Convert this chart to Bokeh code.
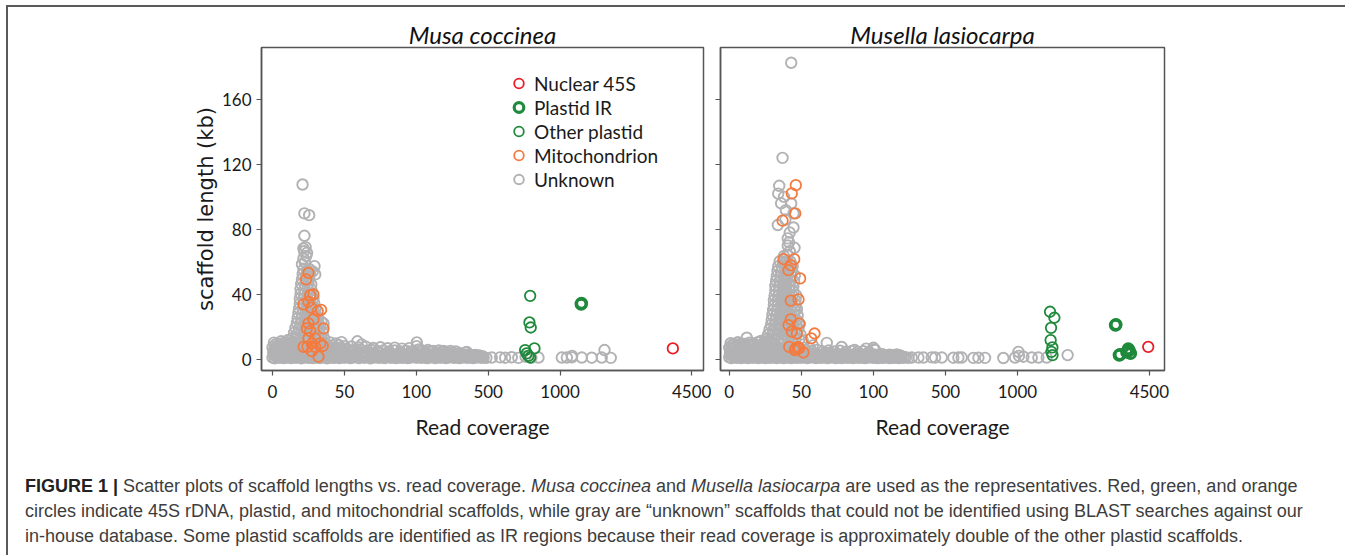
from bokeh.plotting import figure
from bokeh.models import (ColumnDataSource, CustomJSTransform, FixedTicker, CustomJSTickFormatter,
                          Range1d, Legend, LegendItem, Div, Title)
from bokeh.layouts import row, column
from bokeh.transform import transform
from bokeh.embed import file_html
from bokeh.resources import INLINE

# ---------------- axis definition (broken coverage axis) ----------------
COV_BREAKS = [0, 50, 100, 500, 1000, 4500]
AXIS_POS = [0, 1, 2, 3, 4, 5.83]
X_TICK_LABELS = ["0", "50", "100", "500", "1000", "4500"]
Y_TICKS = [0, 40, 80, 120, 160]

# ---------------- Musa coccinea (coverage, kb) ----------------
MC_NUCLEAR = [(4000, 6.6)]
MC_PLASTID_IR = [(1560, 33.9), (1570, 34.4)]
MC_OTHER_PLASTID = [(792, 39.0), (787, 22.6), (796, 19.5), (757, 5.6), (768, 3.5), (822, 6.6), (792, 1.0), (780, 2.0)]
MC_MITO = [(25.0, 53.2), (23.4, 49.1), (26.2, 39.4), (28.5, 39.9), (21.6, 33.7), (25.0, 35.4), (26.9, 31.7),
           (31.5, 29.6), (33.8, 30.4), (28.5, 24.6), (25.0, 22.0), (23.9, 18.9), (35.5, 18.9), (26.2, 17.3),
           (25.0, 12.8), (29.7, 12.8), (27.3, 9.7), (33.2, 9.7), (24.3, 7.6), (29.7, 7.6), (35.0, 8.2),
           (27.3, 4.9), (32.0, 1.5), (21.6, 7.6)]
MC_UNK_BASE = [
    (0, 1.0), (1.5, 0.5), (3, 1.2), (5, 0.8), (6.5, 1.5), (8, 0.6), (10, 1.0), (11.5, 1.3), (13, 0.7), (15, 1.1),
    (16.5, 0.9), (18, 1.4), (20, 0.5), (21.5, 1.0), (23, 1.2), (25, 0.8), (26.5, 1.3), (28, 0.6), (30, 1.0),
    (31.5, 1.1), (33, 0.7), (35, 1.4), (36.5, 0.9), (38, 0.5), (40, 1.2), (41.5, 1.0), (43, 0.8), (45, 1.3),
    (46.5, 0.6), (48, 1.1), (50, 0.9),
    (52, 1.2), (54, 0.7), (56, 1.0), (58, 1.4), (60, 0.6), (62, 1.1), (64, 0.9), (66, 1.3), (68, 0.5), (70, 1.0),
    (72, 1.2), (74, 0.8), (76, 1.1), (78, 0.6), (80, 1.3), (82, 0.9), (84, 1.0), (86, 0.7), (88, 1.2), (90, 0.8),
    (92, 1.1), (94, 0.6), (96, 1.0), (98, 1.3), (100, 0.9),
    (115, 1.1), (130, 0.8), (145, 1.2), (160, 0.7), (175, 1.0), (190, 1.3), (205, 0.6), (220, 1.1), (235, 0.9),
    (250, 1.2), (265, 0.7), (280, 1.0), (295, 1.3), (310, 0.8), (325, 1.1), (340, 0.6), (355, 1.0), (370, 1.2),
    (385, 0.8), (400, 1.1), (415, 0.7), (430, 1.0), (445, 1.2), (460, 0.9), (475, 1.0), (490, 0.8),
    (1, 2.6), (3, 2.2), (5, 2.9), (7, 2.4), (9, 2.7), (11, 2.1), (13, 2.8), (15, 2.3), (17, 2.6), (19, 2.0),
    (21, 2.9), (23, 2.4), (25, 2.7), (27, 2.2), (29, 2.5), (31, 2.8), (33, 2.1), (35, 2.6), (37, 2.3), (39, 2.9),
    (41, 2.4), (43, 2.0), (45, 2.7), (47, 2.3), (49, 2.5),
    (51.5, 2.2), (54, 1.9), (56.5, 2.4), (59, 2.0), (61.5, 2.5), (64, 1.8), (66.5, 2.3), (69, 2.1), (71.5, 2.6),
    (74, 1.9), (76.5, 2.2), (79, 2.0), (81.5, 2.4), (84, 1.8), (86.5, 2.3), (89, 2.1), (91.5, 2.5), (94, 1.9),
    (96.5, 2.2), (99, 2.0),
    (105, 1.9), (122, 2.2), (138, 1.7), (155, 2.1), (168, 1.8), (182, 2.3), (198, 1.9), (214, 2.0), (228, 1.7),
    (243, 2.2), (258, 1.8), (273, 2.1), (288, 1.7), (303, 2.0), (318, 2.2), (333, 1.8), (348, 2.0), (363, 1.7),
    (378, 2.1), (393, 1.9), (408, 2.0), (423, 1.7), (438, 1.9), (453, 1.6), (468, 1.8),
    (0.5, 4.2), (2.5, 3.6), (4.5, 4.5), (6, 3.8), (8, 4.8), (9.5, 3.5), (11.5, 4.2), (13, 4.9), (15, 3.7),
    (17, 4.4), (19, 5.0), (21, 3.8), (23, 4.6), (25, 4.1), (27, 5.2), (29, 3.9), (31, 4.5), (33, 3.6), (35, 4.8),
    (37, 4.0), (39, 3.5), (41, 4.4), (43, 3.8), (45, 4.2), (47, 3.6), (49, 4.0),
    (51, 3.2), (54, 3.9), (57, 3.1), (60, 3.6), (63, 2.9), (66, 3.4), (69, 3.8), (72, 2.8), (75, 3.3), (78, 3.0),
    (81, 3.5), (84, 2.7), (87, 3.2), (90, 3.6), (93, 2.9), (96, 3.3), (99, 3.0),
    (110, 3.0), (130, 2.6), (150, 3.2), (170, 2.5), (190, 3.0), (210, 2.7), (230, 3.1), (250, 2.4), (270, 2.9),
    (290, 2.6), (310, 3.0), (330, 2.3), (350, 2.8), (370, 2.5), (390, 2.9), (410, 2.4), (430, 2.6), (450, 2.2),
    (1, 5.6), (3, 6.1), (5, 5.3), (7, 5.9), (9, 6.3), (11, 5.5), (13, 6.0), (15, 5.7), (17, 6.2), (19, 5.4),
    (21, 5.9), (23, 6.3), (25, 5.6), (27, 6.0), (29, 5.5), (31, 6.2), (33, 5.3), (35, 5.8), (37, 5.4), (39, 5.9),
    (41, 5.2), (43, 5.7), (45, 5.3), (47, 5.8), (49, 5.1),
    (0, 7.2), (2, 6.5), (4, 7.8), (6, 8.5), (8, 7.0), (10, 8.9), (12, 7.4), (14, 9.5), (16, 8.0), (18, 6.8),
    (20, 7.6), (22, 8.4), (24, 6.9), (26, 7.3), (28, 8.1), (30, 6.6), (32, 7.5), (34, 6.8), (36, 7.9), (38, 6.4),
    (40, 7.1), (42, 6.6), (44, 7.4), (46, 6.3), (48, 6.9), (50, 6.1),
    (53, 5.8), (57, 5.2), (61, 6.0), (65, 5.0), (69, 5.6), (73, 4.9), (77, 5.4), (81, 4.8), (85, 5.3), (89, 4.7),
    (93, 5.2), (97, 4.6),
    (55, 7.8), (60, 7.2), (65, 7.6), (70, 6.9), (75, 7.3), (80, 6.7), (85, 7.1), (90, 6.5), (95, 6.8),
    (120, 4.6), (150, 4.2), (180, 4.8), (210, 4.0), (240, 4.4), (270, 3.9), (300, 4.2), (340, 3.8), (380, 4.0),
    (110, 5.8), (135, 5.2), (165, 5.6), (195, 5.0), (225, 5.3), (260, 4.8), (290, 5.1), (320, 4.7),
    (2, 9.0), (4.5, 8.4), (7, 9.3), (9.5, 8.1), (12, 9.6), (14.5, 8.8), (17, 9.9), (34, 8.6), (38, 8.9),
    (42, 8.3), (46, 8.7), (50, 8.0),
    (1, 10.2), (3.5, 9.6), (6, 11.0), (8.5, 10.4), (11, 11.8), (13.5, 10.6), (16, 12.3), (36, 9.8), (40, 10.3),
    (44, 9.6), (48, 10.5),
    (59, 11.0), (62, 9.0), (103, 10.3), (102, 8.0), (120, 6.0), (250, 5.0), (380, 4.5)]
MC_UNK_FAR = [(525, 1.0), (583, 1.1), (618, 0.9), (664, 1.2), (710, 0.8), (760, 1.5), (800, 0.8), (850, 1.0),
              (1046, 1.0), (1180, 1.0), (1312, 1.1), (1320, 2.0), (1578, 1.0), (1843, 0.9), (2109, 1.0),
              (2349, 0.8), (2182, 5.6)]
MC_UNK_SPIKE = [
    (14, 13.0), (16.5, 13.4), (19, 12.8), (21.5, 13.2), (24, 13.6), (26.5, 12.9), (29, 13.3), (31.5, 13.0),
    (34, 13.5), (36, 12.7),
    (15, 16.2), (17.5, 15.8), (20, 16.5), (22.5, 16.0), (25, 16.4), (27.5, 15.7), (30, 16.3), (32.5, 15.9),
    (35, 16.6),
    (16, 19.2), (18.5, 18.8), (21, 19.5), (23.5, 19.0), (26, 19.4), (28.5, 18.7), (31, 19.3), (33, 19.0),
    (17, 22.3), (19.5, 21.8), (22, 22.5), (24.5, 22.0), (27, 22.4), (29.5, 21.7), (32, 22.2), (34, 23.0),
    (17.5, 25.2), (20, 24.8), (22.5, 25.5), (25, 25.0), (27.5, 25.4), (30, 24.7), (31.5, 25.3),
    (18, 28.3), (20.5, 27.8), (23, 28.5), (25.5, 28.0), (28, 28.4), (30, 27.7),
    (18.5, 31.2), (21, 30.8), (23.5, 31.5), (26, 31.0), (28.5, 31.4), (30, 30.9),
    (19, 34.3), (21.5, 33.8), (24, 34.5), (26.5, 34.0), (29, 34.4),
    (19, 37.2), (21.5, 36.8), (24, 37.5), (26.5, 37.0), (28.5, 37.4),
    (19.5, 40.3), (22, 39.8), (24.5, 40.5), (27, 40.0),
    (19.5, 43.2), (22, 42.8), (24.5, 43.5), (27, 43.0),
    (20, 46.3), (22.5, 45.8), (25, 46.5), (27, 46.0),
    (20.5, 49.2), (23, 48.8), (25.5, 49.5),
    (21, 52.3), (23.5, 51.8), (26, 52.5), (29.7, 52.2),
    (21.5, 55.2), (24, 54.8), (25.5, 55.6),
    (20.5, 58.5), (22.5, 59.6), (21.5, 62.0), (23.5, 63.5), (22, 66.5), (24, 65.5), (21.5, 68.2), (23, 69.0),
    (29.2, 57.3), (28, 54.0), (35.5, 22.0),
    (20.9, 107.6), (22.2, 89.8), (25.5, 88.7), (22.2, 76.0)]

# ---------------- Musella lasiocarpa (coverage, kb) ----------------
ML_NUCLEAR = [(4470, 7.6)]
ML_PLASTID_IR = [(3600, 21.0), (3615, 21.3), (3700, 2.5), (3720, 2.8), (3900, 4.3), (3940, 6.3), (4000, 3.5),
                 (3960, 5.5)]
ML_OTHER_PLASTID = [(1864, 29.2), (1979, 25.5), (1891, 19.3), (1880, 11.7), (1926, 7.2), (1930, 2.5),
                    (1900, 4.5)]
ML_MITO = [(46.2, 107.2), (43.4, 102.1), (45.8, 89.8), (37.0, 85.3), (37.7, 61.6), (45.1, 61.6), (42.7, 57.9),
           (41.1, 54.8), (49.2, 49.7), (42.7, 36.0), (48.1, 36.8), (42.7, 24.5), (41.1, 21.0), (48.5, 22.0),
           (43.4, 16.9), (46.9, 15.8), (59.2, 15.8), (56.9, 12.8), (41.6, 7.6), (46.2, 6.6), (48.5, 6.6),
           (45.5, 5.6), (51.5, 4.1), (47.7, 7.6)]
ML_UNK_BASE = [
    (0, 1.1), (1.5, 0.6), (3, 1.3), (5, 0.8), (6.5, 1.4), (8, 0.7), (10, 1.0), (11.5, 1.2), (13, 0.6), (15, 1.1),
    (16.5, 0.9), (18, 1.3), (20, 0.6), (21.5, 1.0), (23, 1.2), (25, 0.7), (26.5, 1.3), (28, 0.8), (30, 1.0),
    (31.5, 1.2), (33, 0.6), (35, 1.3), (36.5, 0.9), (38, 0.6), (40, 1.1), (41.5, 1.0), (43, 0.7), (45, 1.2),
    (46.5, 0.8), (48, 1.0), (50, 0.9),
    (52, 1.1), (54, 0.6), (56, 1.0), (58, 1.3), (60, 0.7), (62, 1.0), (64, 0.8), (66, 1.2), (68, 0.6), (70, 1.0),
    (72, 1.1), (74, 0.7), (76, 1.0), (78, 0.6), (80, 1.2), (82, 0.8), (84, 1.0), (86, 0.7), (88, 1.1), (90, 0.8),
    (92, 1.0), (94, 0.6), (96, 0.9), (98, 1.2), (100, 0.8),
    (112, 1.0), (125, 0.7), (138, 1.1), (151, 0.8), (164, 1.0), (177, 1.2), (190, 0.7), (203, 1.0), (216, 0.8),
    (229, 1.1), (242, 0.7), (255, 1.0), (268, 0.9), (281, 1.1), (295, 0.8),
    (1, 2.5), (3, 2.1), (5, 2.8), (7, 2.3), (9, 2.6), (11, 2.0), (13, 2.7), (15, 2.2), (17, 2.5), (19, 2.0),
    (21, 2.8), (23, 2.3), (25, 2.6), (27, 2.1), (29, 2.4), (31, 2.7), (33, 2.0), (35, 2.5), (37, 2.2), (39, 2.8),
    (41, 2.3), (43, 2.0), (45, 2.6), (47, 2.2), (49, 2.4),
    (51.5, 2.1), (54, 1.8), (56.5, 2.3), (59, 1.9), (61.5, 2.4), (64, 1.7), (66.5, 2.2), (69, 2.0), (71.5, 2.5),
    (74, 1.8), (76.5, 2.1), (79, 1.9), (81.5, 2.3), (84, 1.7), (86.5, 2.2), (89, 2.0), (91.5, 2.4), (94, 1.8),
    (96.5, 2.1), (99, 1.9),
    (106, 1.9), (120, 2.1), (134, 1.7), (148, 2.0), (162, 1.6), (176, 1.9), (190, 2.0), (205, 1.6), (220, 1.8),
    (236, 1.5), (252, 1.7), (270, 1.4),
    (0.5, 4.0), (2.5, 3.5), (4.5, 4.6), (6, 3.7), (8, 4.7), (9.5, 3.6), (11.5, 4.3), (13, 5.0), (15, 3.8),
    (17, 4.5), (19, 5.1), (21, 3.9), (23, 4.7), (25, 4.2), (27, 5.3), (29, 4.0), (31, 4.6), (33, 3.7), (35, 4.9),
    (37, 4.1), (39, 3.6), (41, 4.5), (43, 3.9), (45, 4.3), (47, 3.7), (49, 4.1),
    (51, 3.3), (54, 3.8), (57, 3.0), (60, 3.5), (63, 2.8), (66, 3.3), (69, 3.7), (72, 2.7), (75, 3.2), (78, 2.9),
    (81, 3.4), (84, 2.6), (87, 3.1), (90, 3.5), (93, 2.8), (96, 3.2), (99, 2.9),
    (110, 2.8), (130, 2.4), (150, 3.0), (170, 2.3), (190, 2.8), (210, 2.5), (230, 2.9), (250, 2.2),
    (1, 5.5), (3, 6.0), (5, 5.2), (7, 5.8), (9, 6.2), (11, 5.4), (13, 5.9), (15, 5.6), (17, 6.1), (19, 5.3),
    (21, 5.8), (23, 6.2), (25, 5.5), (27, 5.9), (29, 6.6), (31, 6.1), (33, 5.8), (35, 6.4), (37, 5.6), (39, 6.0),
    (41, 5.4), (43, 5.9), (45, 5.2), (47, 5.7), (49, 5.0),
    (0, 7.0), (2, 6.4), (4, 7.6), (6, 8.2), (8, 6.9), (10, 8.6), (12, 7.3), (14, 9.0), (16, 7.8), (18, 6.7),
    (20, 7.5), (22, 8.2), (24, 6.8), (26, 7.4), (28, 8.3), (30, 9.5), (32, 8.0), (46, 6.0), (48, 6.5), (50, 5.8),
    (53, 5.5), (57, 5.0), (61, 5.7), (65, 4.8), (69, 5.3), (73, 4.7), (77, 5.2), (81, 4.6), (85, 5.0), (89, 4.5),
    (93, 4.9), (97, 4.4),
    (2, 8.8), (4.5, 8.2), (7, 9.1), (9.5, 8.0), (11, 9.4), (15, 8.6), (18, 8.9), (23, 9.3), (26, 8.7),
    (29, 10.5), (52, 7.0), (56, 6.8),
    (1, 9.8), (3.5, 9.3), (6, 10.4), (8.5, 9.7), (12.2, 13.2), (14, 10.2), (17, 9.6), (20, 10.5), (22, 11.2),
    (25, 12.0), (27, 10.8),
    (67.7, 10.0), (78, 7.5), (87, 5.6), (110, 5.6), (58, 8.5), (95, 6.5), (100, 7.0), (105, 6.0)]
ML_UNK_FAR = [(313, 1.0), (350, 1.0), (378, 1.0), (424, 1.1), (443, 1.0), (480, 1.0), (555, 0.9), (590, 1.0),
              (613, 1.0), (694, 0.8), (729, 0.9), (775, 0.8), (902, 0.7), (983, 1.0), (1025, 4.5), (1040, 2.0),
              (1157, 1.5), (1379, 1.0), (1555, 1.0), (1775, 1.0), (2331, 2.5)]
ML_UNK_SPIKE = [
    (26, 12.2), (28.5, 11.8), (31, 12.5), (33.5, 12.0), (36, 12.4), (38.5, 11.7), (41, 12.3), (43.5, 11.9),
    (46, 12.6), (48.5, 12.1), (51, 11.6),
    (27, 15.2), (29.5, 14.8), (32, 15.5), (34.5, 15.0), (37, 15.4), (39.5, 14.7), (42, 15.3), (44.5, 14.9),
    (47, 15.6), (49.5, 15.1),
    (28, 18.3), (30.5, 17.8), (33, 18.5), (35.5, 18.0), (38, 18.4), (40.5, 17.7), (43, 18.2), (45.5, 17.9),
    (48, 18.6),
    (29, 21.2), (31.5, 20.8), (34, 21.5), (36.5, 21.0), (39, 21.4), (41.5, 20.7), (44, 21.3), (46.5, 20.9),
    (49, 21.6),
    (29.5, 24.3), (32, 23.8), (34.5, 24.5), (37, 24.0), (39.5, 24.4), (42, 23.7), (44.5, 24.3), (47, 23.9),
    (30, 27.2), (32.5, 26.8), (35, 27.5), (37.5, 27.0), (40, 27.4), (42.5, 26.7), (45, 27.3), (47.5, 26.9),
    (30.5, 30.3), (33, 29.8), (35.5, 30.5), (38, 30.0), (40.5, 30.4), (43, 29.7), (45.5, 30.3), (47, 30.8),
    (31, 33.2), (33.5, 32.8), (36, 33.5), (38.5, 33.0), (41, 33.4), (43.5, 32.7), (46, 33.3),
    (31, 36.3), (33.5, 35.8), (36, 36.5), (38.5, 36.0), (41, 36.4), (43.5, 35.7), (46, 36.3),
    (31.5, 39.2), (34, 38.8), (36.5, 39.5), (39, 39.0), (41.5, 39.4), (44, 38.7), (46.5, 39.3),
    (32, 42.3), (34.5, 41.8), (37, 42.5), (39.5, 42.0), (42, 42.4), (44.5, 41.7),
    (32, 45.2), (34.5, 44.8), (37, 45.5), (39.5, 45.0), (42, 45.4), (44.5, 44.7),
    (32.5, 48.3), (35, 47.8), (37.5, 48.5), (40, 48.0), (42.5, 48.4), (45, 47.9),
    (33, 51.2), (35.5, 50.8), (38, 51.5), (40.5, 51.0), (43, 51.4), (45.5, 51.6),
    (33.5, 54.3), (36, 53.8), (38.5, 54.5), (41, 54.0), (43.5, 54.4),
    (34, 57.2), (36.5, 56.8), (39, 57.5), (41.5, 57.0), (44, 57.3),
    (35, 60.3), (37.5, 59.8), (40, 60.5), (42.5, 60.0),
    (38, 63.5), (40.5, 64.2), (42, 66.5), (40.6, 70.0), (41.5, 72.0), (40.6, 74.4), (45.3, 68.6), (44.6, 81.1),
    (33.7, 82.6), (44.6, 89.8), (39.3, 91.8), (43, 95.9), (34.7, 106.8), (34, 102.0), (37, 124.0),
    (43, 182.6), (36, 96.0), (38, 100.0), (42, 78.0), (39, 86.0)]

# ---------------- styling ----------------
GRAY = "#b2b2b4"
ORANGE = "#f47b3f"
GREEN = "#1f8a3c"
RED = "#ec1c24"
FONT = "Lato"
AX = "#555555"

piecewise = CustomJSTransform(
    args=dict(b=COV_BREAKS, q=AXIS_POS),
    func="""
      let k = 0;
      while (k < b.length - 2 && x > b[k+1]) k++;
      return q[k] + (x - b[k]) / (b[k+1] - b[k]) * (q[k+1] - q[k]);
    """,
    v_func="""
      const out = new Float64Array(xs.length);
      for (let i = 0; i < xs.length; i++) {
        const x = xs[i];
        let k = 0;
        while (k < b.length - 2 && x > b[k+1]) k++;
        out[i] = q[k] + (x - b[k]) / (b[k+1] - b[k]) * (q[k+1] - q[k]);
      }
      return out;
    """)

def src(pairs):
    return ColumnDataSource(dict(cov=[p[0] for p in pairs], kb=[p[1] for p in pairs]))

def make_panel(title, width, mb_left, mb_right, xr, show_ylabels, data):
    p = figure(width=width, height=440, output_backend="svg", toolbar_location=None,
               x_range=Range1d(*xr), y_range=Range1d(-7, 192),
               min_border_left=mb_left, min_border_right=mb_right, min_border_top=40, min_border_bottom=77)
    p.title = Title(text=title, align="center", text_font=FONT, text_font_style="italic",
                    text_font_size="24px", text_color="#111111", standoff=-3)
    p.xgrid.visible = False
    p.ygrid.visible = False
    p.outline_line_color = AX
    p.outline_line_width = 1.5
    p.background_fill_color = "white"
    p.border_fill_color = "white"

    p.xaxis.ticker = FixedTicker(ticks=AXIS_POS)
    p.xaxis.formatter = CustomJSTickFormatter(args=dict(q=AXIS_POS, lab=X_TICK_LABELS), code="""
        for (let i = 0; i < q.length; i++) { if (Math.abs(tick - q[i]) < 1e-6) return lab[i]; }
        return '';""")
    p.xaxis.axis_label = "Read coverage"
    p.yaxis.ticker = FixedTicker(ticks=Y_TICKS)
    for ax in (p.xaxis, p.yaxis):
        ax.axis_line_color = AX
        ax.axis_line_width = 1.5
        ax.major_tick_line_color = AX
        ax.major_tick_line_width = 1.2
        ax.major_tick_in = 0
        ax.major_tick_out = 5
        ax.minor_tick_line_color = None
        ax.major_label_text_font = FONT
        ax.major_label_text_color = "#1a1a1a"
        ax.major_label_text_font_size = "17px"
        ax.axis_label_text_font = FONT
        ax.axis_label_text_font_style = "normal"
        ax.axis_label_text_color = "#1a1a1a"
        ax.axis_label_text_font_size = "21px"
    p.xaxis.major_label_standoff = 9
    p.xaxis.axis_label_standoff = 13
    if show_ylabels:
        p.yaxis.axis_label = "scaffold length (kb)"
        p.yaxis.axis_label_text_font = "DejaVu Sans"
        p.yaxis.axis_label_text_font_size = "21px"
        p.yaxis.major_label_standoff = 5
        p.yaxis.axis_label_standoff = 1
    else:
        p.yaxis.formatter = CustomJSTickFormatter(code="return '';")
        p.yaxis.major_label_standoff = 0

    rs = {}
    x = transform("cov", piecewise)
    rs["Unknown"] = p.scatter(x=x, y="kb", source=src(data["unk"]), size=10.5, fill_color=None,
                              line_color=GRAY, line_width=1.9)
    rs["Mitochondrion"] = p.scatter(x=x, y="kb", source=src(data["mito"]), size=10.5, fill_color=None,
                                    line_color=ORANGE, line_width=1.8)
    rs["Other plastid"] = p.scatter(x=x, y="kb", source=src(data["other"]), size=10.5, fill_color=None,
                                    line_color=GREEN, line_width=1.8)
    rs["Plastid IR"] = p.scatter(x=x, y="kb", source=src(data["ir"]), size=10, fill_color=None,
                                 line_color=GREEN, line_width=3.2)
    rs["Nuclear 45S"] = p.scatter(x=x, y="kb", source=src(data["nuc"]), size=10.5, fill_color=None,
                                  line_color=RED, line_width=1.8)
    return p, rs

p1, r1 = make_panel("Musa coccinea", 703, 253, 8, (-0.153, 5.995), True,
                    dict(unk=MC_UNK_BASE + MC_UNK_FAR + MC_UNK_SPIKE, mito=MC_MITO, other=MC_OTHER_PLASTID,
                         ir=MC_PLASTID_IR, nuc=MC_NUCLEAR))
p2, r2 = make_panel("Musella lasiocarpa", 473, 9, 20, (-0.121, 6.04), False,
                    dict(unk=ML_UNK_BASE + ML_UNK_FAR + ML_UNK_SPIKE, mito=ML_MITO, other=ML_OTHER_PLASTID,
                         ir=ML_PLASTID_IR, nuc=ML_NUCLEAR))

order = ["Nuclear 45S", "Plastid IR", "Other plastid", "Mitochondrion", "Unknown"]
legend = Legend(items=[LegendItem(label=k, renderers=[r1[k]]) for k in order],
                location=(244, 179), orientation="vertical",
                label_text_font=FONT, label_text_font_size="19px", label_text_color="#1a1a1a",
                glyph_width=27, glyph_height=24, label_height=24, label_standoff=2, spacing=0,
                padding=0, margin=0, border_line_color=None, background_fill_alpha=0)
p1.add_layout(legend)

caption = Div(text=(
    '<div style="font-family:\'Liberation Sans\',Arial,sans-serif;font-size:18px;line-height:25px;'
    'color:#3d3d3d;white-space:nowrap;padding:22px 0 0 12px;">'
    '<b style="color:#222">FIGURE 1 |</b> Scatter plots of scaffold lengths vs. read coverage. '
    '<i>Musa coccinea</i> and <i>Musella lasiocarpa</i> are used as the representatives. Red, green, and orange<br>'
    'circles indicate 45S rDNA, plastid, and mitochondrial scaffolds, while gray are \u201cunknown\u201d scaffolds '
    'that could not be identified using BLAST searches against our<br>'
    'in-house database. Some plastid scaffolds are identified as IR regions because their read coverage is '
    'approximately double of the other plastid scaffolds.</div>'),
    width=1330, height=98)

layout = column(row(p1, p2), caption,
                styles={"border-top": "2px solid #5a5a5a", "border-left": "2px solid #5a5a5a"},
                width=1339, margin=(5, 0, 0, 6))

open("out.html", "w").write(file_html(layout, INLINE))
